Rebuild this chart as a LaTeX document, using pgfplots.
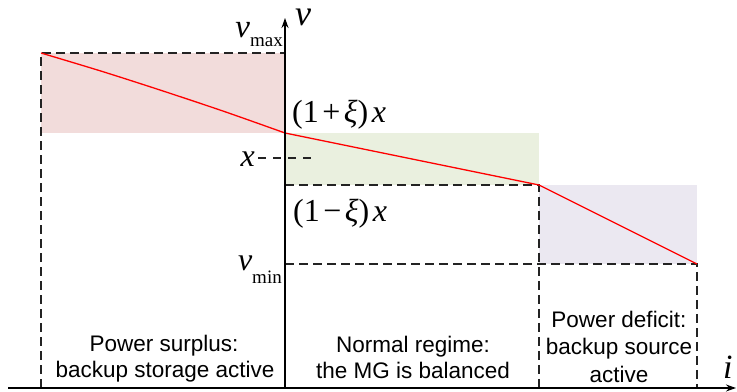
\documentclass[border=0pt]{standalone}
\usepackage{pgfplots}
\pgfplotsset{compat=1.18}
\usetikzlibrary{arrows.meta}
\usepackage{fontspec}
\setmainfont{Liberation Serif}
\newfontfamily\arial{Liberation Sans}

\definecolor{surplusfill}{RGB}{242,220,219}
\definecolor{normalfill}{RGB}{234,240,223}
\definecolor{deficitfill}{RGB}{235,232,241}
\definecolor{guide}{RGB}{35,35,35}

\newcommand{\fs}[1]{\fontsize{#1bp}{#1bp}\selectfont}

\begin{document}
\begin{tikzpicture}
\begin{axis}[
  scale only axis,
  width=737bp, height=392bp,
  xmin=-285, xmax=452, ymin=-4, ymax=388,
  hide axis, clip=false,
  guideline/.style={guide, line width=1.25bp, dash pattern=on 9bp off 5bp},
]
  % frame of the drawing area
  \coordinate (frameSW) at (rel axis cs:0,0);
  \coordinate (frameNE) at (rel axis cs:1,1);

  % operating regions
  \addplot[fill=surplusfill, draw=none] coordinates {(-244,255) (-244,335) (0,335) (0,255)};
  \addplot[fill=normalfill, draw=none] coordinates {(0,203) (0,255) (254,255) (254,203)};
  \addplot[fill=deficitfill, draw=none] coordinates {(254,124) (254,203) (412,203) (412,124)};

  % dashed guides
  \addplot[guideline] coordinates {(-244,0) (-244,335) (0,335)};
  \addplot[guideline] coordinates {(0,203) (254,203) (254,0)};
  \addplot[guideline] coordinates {(0,124) (412,124) (412,0)};
  \addplot[guide, line width=1.25bp, dash pattern=on 8bp off 7bp] coordinates {(-27,230) (30,230)};

  % droop characteristic
  \addplot[red, line width=1.3bp, smooth] coordinates {(-244,335) (-183,316.6) (-122,297) (-61,276.6) (0,255)};
  \addplot[red, line width=1.3bp] coordinates {(0,255) (254,203) (412,124)};

  % axes
  \draw[black, line width=1.2bp, -{Stealth[length=10bp,width=7bp]}] (0,0) -- (0,370);
  \draw[black, line width=1.2bp, -{Stealth[length=10bp,width=7bp]}] (-277,0) -- (451,0);

  % axis labels
  \node[anchor=base west, inner sep=0] at (10,362) {\fs{36}\textit{v}};
  \node[anchor=base west, inner sep=0] at (438,10) {\fs{34}\textit{i}};

  % level labels
  \node[anchor=base east, inner sep=0] at (-2,350) {\fs{33}\textit{v}\raisebox{-9bp}{\fs{19}max}};
  \node[anchor=base east, inner sep=0] at (-3,117) {\fs{32}\textit{v}\raisebox{-13bp}{\fs{19}min}};
  \node[anchor=base east, inner sep=0] at (-30,221) {\fs{32}\textit{x}};
  \node[anchor=base west, inner sep=0] at (7,265) {\fs{32}(1\kern3.5bp+\kern3.5bp\textit{ξ})\kern3.5bp\textit{x}};
  \node[anchor=base west, inner sep=0] at (8,166) {\fs{32}(1\kern3.5bp−\kern3.5bp\textit{ξ})\kern3.5bp\textit{x}};

  % region descriptions
  \node[anchor=base, inner sep=0] at (-121,36) {\arial\fs{22.5}Power surplus:};
  \node[anchor=base, inner sep=0] at (-120,11) {\arial\fs{22.5}backup storage active};
  \node[anchor=base, inner sep=0] at (128,35) {\arial\fs{22.5}Normal regime:};
  \node[anchor=base, inner sep=0] at (128,10) {\arial\fs{22.5}the MG is balanced};
  \node[anchor=base, inner sep=0] at (334,60) {\arial\fs{22.5}Power deficit:};
  \node[anchor=base, inner sep=0] at (334,33) {\arial\fs{22.5}backup source};
  \node[anchor=base, inner sep=0] at (334,6) {\arial\fs{22.5}active};
\end{axis}
\pgfresetboundingbox
\path (frameSW) rectangle (frameNE);
\end{tikzpicture}
\end{document}
